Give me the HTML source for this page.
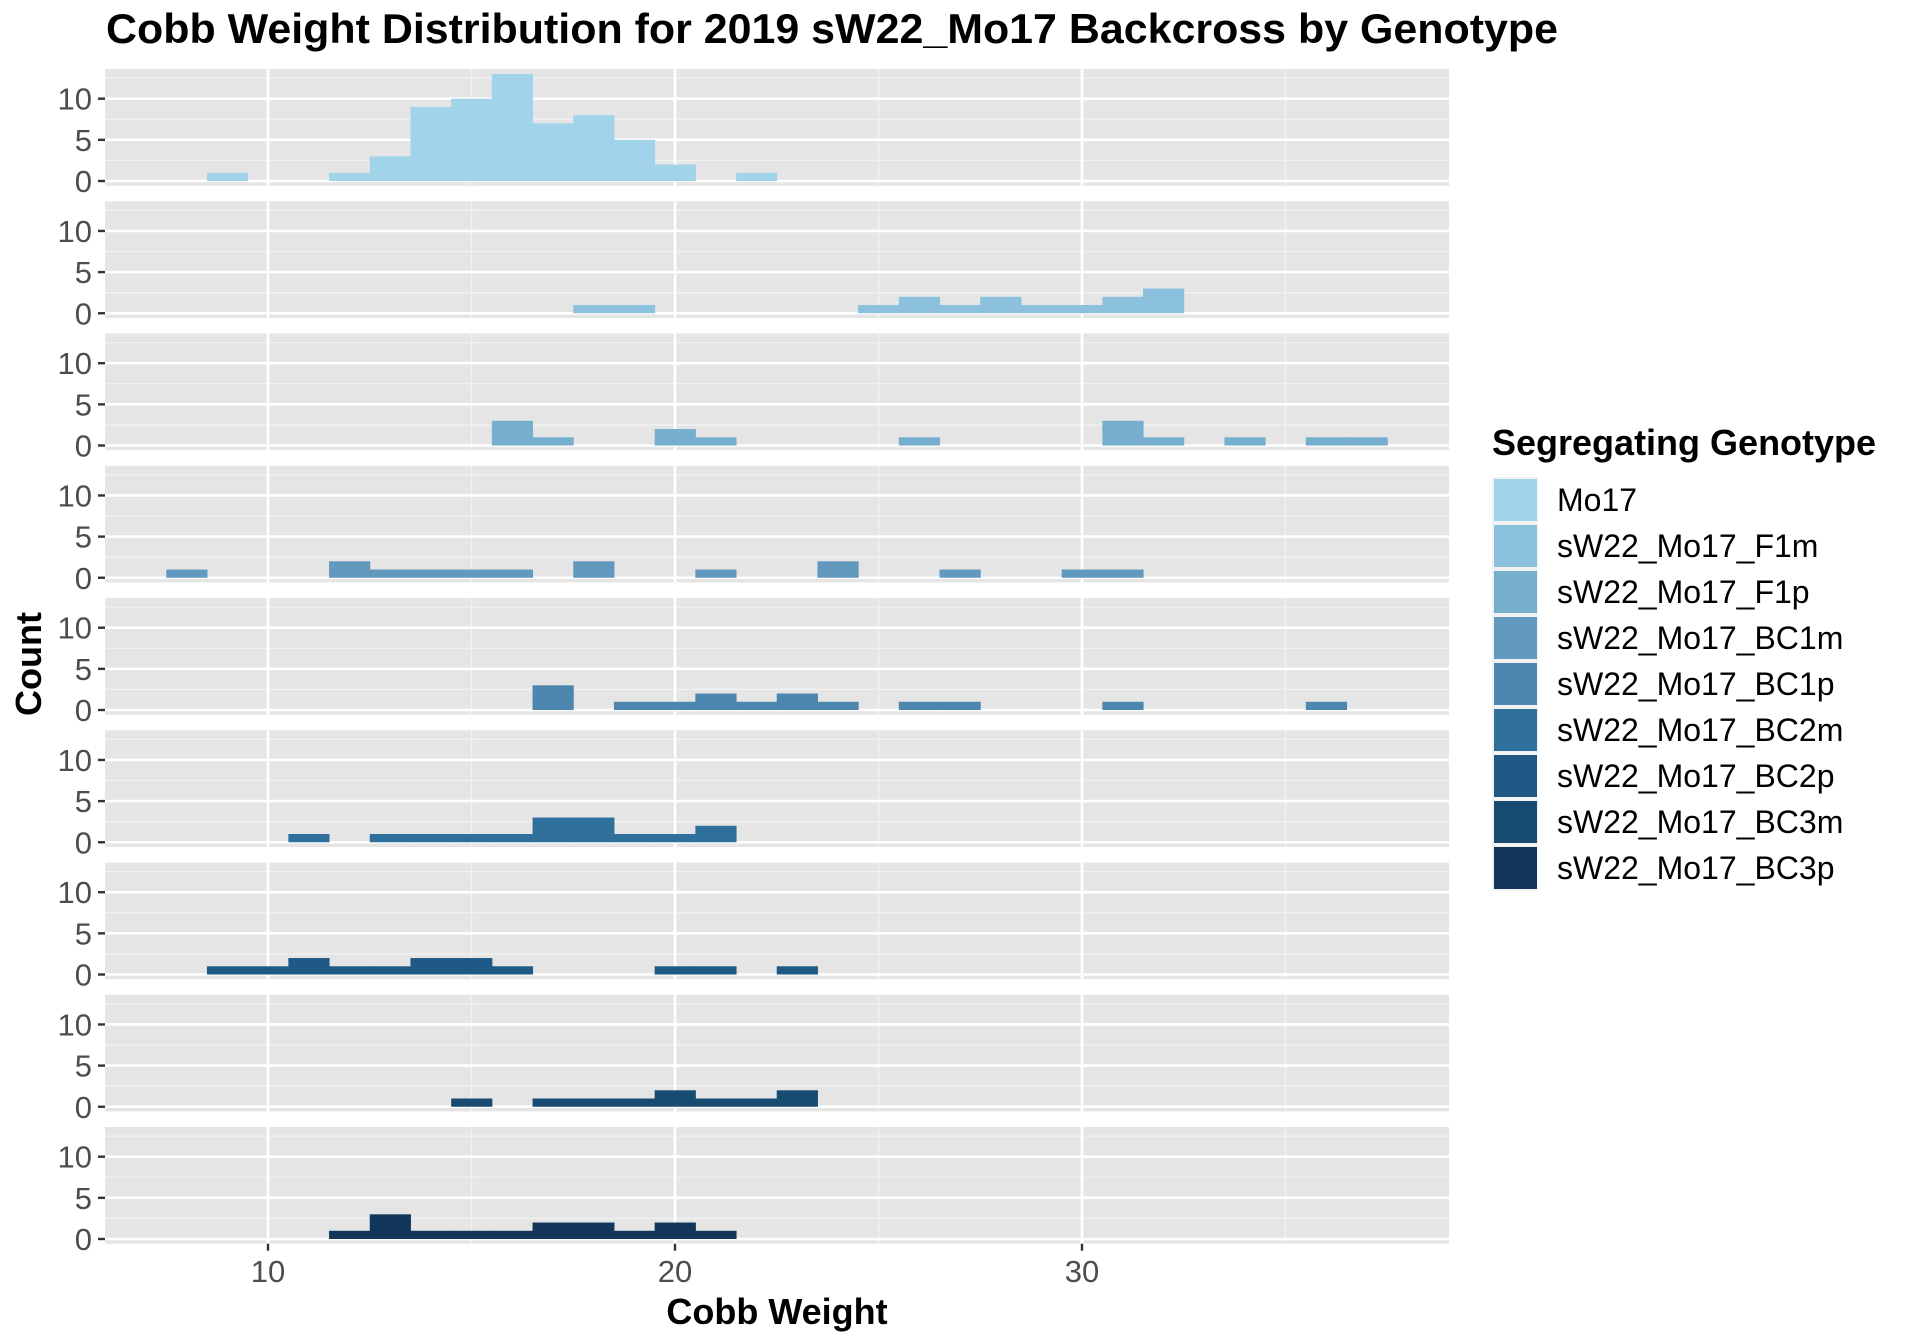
<!DOCTYPE html>
<html><head><meta charset="utf-8">
<style>
html,body{margin:0;padding:0;background:#fff;}
svg{display:block;}
text{font-family:"Liberation Sans",Arial,sans-serif;}
</style></head>
<body>
<svg id="chart" width="1920" height="1344" viewBox="0 0 1920 1344" xmlns="http://www.w3.org/2000/svg">
<text x="106" y="43" font-size="42" font-weight="bold" fill="#000" textLength="1452" lengthAdjust="spacingAndGlyphs">Cobb Weight Distribution for 2019 sW22_Mo17 Backcross by Genotype</text>
<text transform="translate(41,664) rotate(-90)" text-anchor="middle" font-size="36" font-weight="bold" fill="#000">Count</text>
<text x="777" y="1324" text-anchor="middle" font-size="36" font-weight="bold" fill="#000">Cobb Weight</text>
<g id="panels"></g>
<g id="legend"></g>
</svg>
<script>
const genotypes = ["Mo17","sW22_Mo17_F1m","sW22_Mo17_F1p","sW22_Mo17_BC1m","sW22_Mo17_BC1p","sW22_Mo17_BC2m","sW22_Mo17_BC2p","sW22_Mo17_BC3m","sW22_Mo17_BC3p"];
const colors = ["#a1d4ea","#8bc1dc","#76aecd","#6199bf","#4d86af","#2f6f9c","#1f5a87","#174b72","#12375a"];
const binCenters0 = [9,12,13,14,15,16,17,18,19,20,22];
const counts0 = [1,1,3,9,10,13,7,8,5,2,1];
const binCenters1 = [18,19,25,26,27,28,29,30,31,32];
const counts1 = [1,1,1,2,1,2,1,1,2,3];
const binCenters2 = [16,17,20,21,26,31,32,34,36,37];
const counts2 = [3,1,2,1,1,3,1,1,1,1];
const binCenters3 = [8,12,13,14,15,16,18,21,24,27,30,31];
const counts3 = [1,2,1,1,1,1,2,1,2,1,1,1];
const binCenters4 = [17,19,20,21,22,23,24,26,27,31,36];
const counts4 = [3,1,1,2,1,2,1,1,1,1,1];
const binCenters5 = [11,13,14,15,16,17,18,19,20,21];
const counts5 = [1,1,1,1,1,3,3,1,1,2];
const binCenters6 = [9,10,11,12,13,14,15,16,20,21,23];
const counts6 = [1,1,2,1,1,2,2,1,1,1,1];
const binCenters7 = [15,17,18,19,20,21,22,23];
const counts7 = [1,1,1,1,2,1,1,2];
const binCenters8 = [12,13,14,15,16,17,18,19,20,21];
const counts8 = [1,3,1,1,1,2,2,1,2,1];
const xTicks = [10,20,30];
const xMinor = [5,15,25,35];
const yTicks = [0,5,10];
const yMinor = [2.5,7.5,12.5];
const binWidth = 1;

const allBins = [binCenters0,binCenters1,binCenters2,binCenters3,binCenters4,binCenters5,binCenters6,binCenters7,binCenters8];
const allCounts = [counts0,counts1,counts2,counts3,counts4,counts5,counts6,counts7,counts8];

const NS = "http://www.w3.org/2000/svg";
const PL = 105, PR = 1449;
function xs(v){ return 268 + (v-10)*40.7; }
function zeroY(k){ return 181 + k*132.25; }
function ys(k,c){ return zeroY(k) - c*8.23; }
function mk(tag, attrs, parent){
  const e = document.createElementNS(NS, tag);
  for (const a in attrs) e.setAttribute(a, attrs[a]);
  parent.appendChild(e);
  return e;
}
const panels = document.getElementById("panels");
for (let k=0;k<9;k++){
  const g = mk("g",{},panels);
  
  
  const top = zeroY(k)-112, bot = zeroY(k)+4.7;
  const bg = mk("rect",{x:PL,y:top,width:PR-PL,height:bot-top,fill:"#e5e5e5"},g);
  
  
  yMinor.forEach(t=>{ const y=ys(k,t); if(y>top){ const l=mk("line",{x1:PL,x2:PR,y1:y,y2:y,stroke:"#f2f2f2","stroke-width":1.3},g);
    
     }});
  xMinor.forEach(t=>{ const x=xs(t); if(x>PL&&x<PR){ const l=mk("line",{x1:x,x2:x,y1:top,y2:bot,stroke:"#f2f2f2","stroke-width":1.3},g);
    
     }});
  yTicks.forEach(t=>{ const y=ys(k,t); const l=mk("line",{x1:PL,x2:PR,y1:y,y2:y,stroke:"#fff","stroke-width":2.6},g);
    
    
    const tk=mk("line",{x1:PL-7,x2:PL,y1:y,y2:y,stroke:"#333","stroke-width":2.4},g);
    
    
    const tx=mk("text",{x:PL-13,y:y+11,"text-anchor":"end","font-size":31,fill:"#4d4d4d"},g);
    tx.textContent = t;
    
    
  });
  xTicks.forEach(t=>{ const x=xs(t); const l=mk("line",{x1:x,x2:x,y1:top,y2:bot,stroke:"#fff","stroke-width":2.6},g);
    
     });
  const b = allBins[k], c = allCounts[k];
  for (let i=0;i<b.length;i++){
    const x0 = xs(b[i]-binWidth/2), x1 = xs(b[i]+binWidth/2);
    const r = mk("rect",{x:x0,y:ys(k,c[i]),width:x1-x0+0.5,height:zeroY(k)-ys(k,c[i]),fill:colors[k]},g);
    
    
  }
}
const lastBot = zeroY(8)+4.7;
xTicks.forEach(t=>{
  const x = xs(t);
  const tk = mk("line",{x1:x,x2:x,y1:lastBot,y2:lastBot+7,stroke:"#333","stroke-width":2.4},panels);
  
  
  const tx = mk("text",{x:x,y:1282,"text-anchor":"middle","font-size":31,fill:"#4d4d4d"},panels);
  tx.textContent = t;
  
  
});
const lg = document.getElementById("legend");


const lt = mk("text",{x:1492,y:455,"font-size":36,"font-weight":"bold",fill:"#000"},lg);
lt.textContent = "Segregating Genotype";


genotypes.forEach((gname,i)=>{
  const y0 = 478 + i*46;
  const e = mk("g",{},lg);
  
  
  mk("rect",{x:1492,y:y0-1,width:46,height:46,fill:"#f2f2f2"},e);
  const sw = mk("rect",{x:1494,y:y0+1,width:43,height:42,fill:colors[i]},e);
  
  
  const t = mk("text",{x:1557,y:y0+33,"font-size":32,fill:"#000"},e);
  t.textContent = gname;
  
  
});
</script>
</body></html>
